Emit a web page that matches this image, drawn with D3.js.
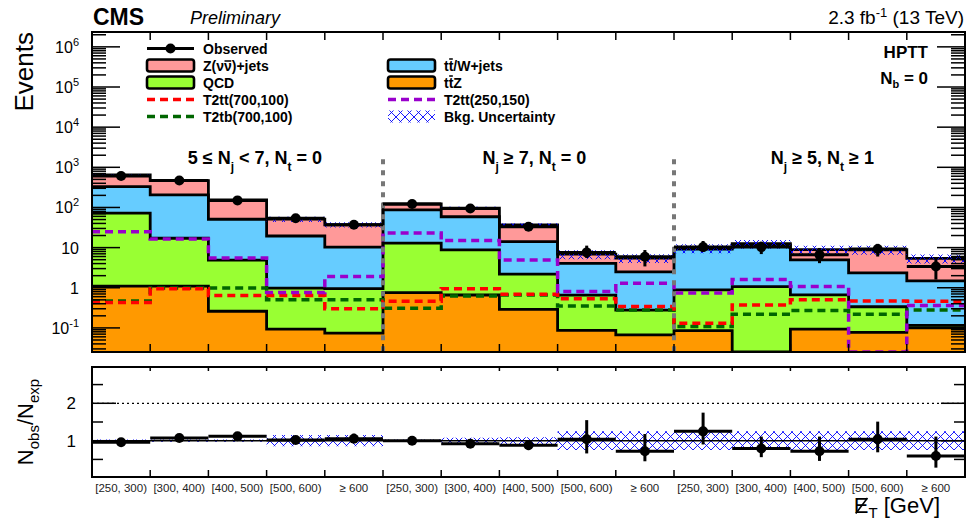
<!DOCTYPE html>
<html>
<head>
<meta charset="utf-8">
<script src="https://cdn.jsdelivr.net/npm/d3@7"></script>
<style>
body { margin: 0; background: #fff; }
svg { font-family: "Liberation Sans", Arial, Helvetica, sans-serif; }
</style>
</head>
<body>
<svg id="canvas" width="967" height="532"></svg>
<script>
// ---- data ----
let binLabels = ["[250, 300)", "[300, 400)", "[400, 500)", "[500, 600)", "\u2265 600",
                 "[250, 300)", "[300, 400)", "[400, 500)", "[500, 600)", "\u2265 600",
                 "[250, 300)", "[300, 400)", "[400, 500)", "[500, 600)", "\u2265 600"];

// stacked backgrounds, bottom to top
let ttZ = [1.1, 1.1, 0.26, 0.093, 0.074, 0.76, 0.66, 0.29, 0.087, 0.067, 0.086, 0.015, 0.093, 0.077, 0.1];
let qcd = [71, 16, 4.6, 0.89, 0.88, 12.1, 8.1, 1.9, 0.57, 0.21, 0.80, 1.05, 0.57, 0.26, 0.015];
let ttW = [258, 188, 46, 18.5, 9.3, 74, 50, 11.9, 3.4, 2.2, 8.3, 10.4, 4.3, 2.0, 1.37];
let znn = [315, 260, 103, 31.5, 26.8, 35, 37, 22.9, 2.8, 3.0, 0.5, 1.0, 3.9, 6.5, 3.9];
let bkgUnc = [0.03, 0.03, 0.03, 0.15, 0.15, 0.03, 0.08, 0.09, 0.25, 0.25, 0.25, 0.25, 0.25, 0.25, 0.25];

let obs = [605, 470, 150, 54, 37, 122, 94, 33, 7.6, 5.9, 10.3, 10.3, 6.6, 9.2, 3.4];
let obsUp = [25, 22, 12, 7.4, 6, 11, 10, 5.7, 3.6, 2.8, 4.3, 3.8, 3.2, 3.2, 2.2];
let obsDn = [25, 22, 12, 7.4, 6, 11, 10, 5.7, 2.1, 2.5, 2.4, 3.4, 2.5, 3.2, 1.8];

// signals
let t2tt700 = [0.43, 0.95, 0.64, 0.64, 0.30, 0.46, 0.95, 0.69, 0.53, 0.34, 0.13, 0.37, 0.50, 0.47, 0.46];
let t2tb700 = [0.47, 0.98, 0.98, 0.50, 0.50, 0.31, 0.62, 0.66, 0.35, 0.28, 0.108, 0.22, 0.27, 0.22, 0.28];
let t2tt250 = [25, 16.5, 5.5, 0.76, 1.9, 23, 15, 4.9, 0.81, 1.3, 0.74, 1.6, 1.07, 0.015, 0.36];

// ratio panel
let ratio = [0.96, 1.07, 1.12, 1.02, 1.05, 1.00, 0.92, 0.88, 1.04, 0.72, 1.25, 0.79, 0.72, 1.04, 0.59];
let ratioUp = [0.04, 0.05, 0.07, 0.10, 0.14, 0.07, 0.09, 0.13, 0.51, 0.46, 0.50, 0.32, 0.39, 0.47, 0.52];
let ratioDn = [0.04, 0.05, 0.07, 0.10, 0.10, 0.07, 0.09, 0.13, 0.38, 0.27, 0.35, 0.23, 0.26, 0.35, 0.31];

let yTickExp = [6, 5, 4, 3, 2, 1, 0, -1];
let ratioTicks = [1, 2];
let ratioMinor = [0.5, 1.5, 2.5];

let regionLabels = [
    { at: 2.8, parts: [["5 \u2264 N", 0], ["j", 1], [" < 7, N", 0], ["t", 1], [" = 0", 0]] },
    { at: 7.6, parts: [["N", 0], ["j", 1], [" \u2265 7, N", 0], ["t", 1], [" = 0", 0]] },
    { at: 12.55, parts: [["N", 0], ["j", 1], [" \u2265 5, N", 0], ["t", 1], [" \u2265 1", 0]] }
];
let separators = [5, 10];

// ---- layout ----
const left = 92, right = 965;
const mainTop = 32, mainBottom = 352;
const ratioTop = 367, ratioBottom = 477;
const nBins = obs.length;

const colors = { ttZ: "#ff9900", qcd: "#99ff33", ttW: "#66ccff", znn: "#ff9999" };
const red = "#ff0000", dkgreen = "#006600", purple = "#9900cc";

let svg = d3.select("#canvas");

let x = d3.scaleLinear().domain([0, nBins]).range([left, right]);
let y = d3.scaleLog().domain([Math.pow(10, -1.6), Math.pow(10, 6.37)]).range([mainBottom, mainTop]).clamp(true);
let yr = d3.scaleLinear().domain([0.03, 2.97]).range([ratioBottom, ratioTop]).clamp(true);

let defs = svg.append("defs");
let pat = defs.append("pattern").attr("id", "hatch")
    .attr("patternUnits", "userSpaceOnUse").attr("width", 9).attr("height", 9);
pat.append("path").attr("d", "M0,0L9,9M0,9L9,0")
    .attr("stroke", "#0000ff").attr("stroke-width", 0.9).attr("fill", "none");

defs.append("clipPath").attr("id", "clipMain").append("rect")
    .attr("x", left).attr("y", mainTop).attr("width", right - left).attr("height", mainBottom - mainTop);
defs.append("clipPath").attr("id", "clipRatio").append("rect")
    .attr("x", left).attr("y", ratioTop).attr("width", right - left).attr("height", ratioBottom - ratioTop);

// step helper: repeat last value at the closing edge
let steps = (arr) => arr.map((v, i) => ({ i: i, v: v })).concat([{ i: arr.length, v: arr[arr.length - 1] }]);

// ---- main panel ----
let main = svg.append("g").attr("clip-path", "url(#clipMain)");

let keys = ["ttZ", "qcd", "ttW", "znn"];
let table = ttZ.map((v, i) => ({ ttZ: v, qcd: qcd[i], ttW: ttW[i], znn: znn[i] }));
let series = d3.stack().keys(keys)(table);
let total = series[series.length - 1].map(d => d[1]);

let area = d3.area().curve(d3.curveStepAfter)
    .x(d => x(d.i)).y0(d => y(d.lo)).y1(d => y(d.hi));
let stepLine = d3.line().curve(d3.curveStepAfter).x(d => x(d.i)).y(d => y(d.v));

series.forEach(s => {
    let pts = s.map((d, i) => ({ i: i, lo: d[0], hi: d[1] }));
    pts.push({ i: nBins, lo: pts[nBins - 1].lo, hi: pts[nBins - 1].hi });
    main.append("path").attr("d", area(pts)).attr("fill", colors[s.key]);
});
series.forEach(s => {
    main.append("path").attr("d", stepLine(steps(s.map(d => d[1]))))
        .attr("fill", "none").attr("stroke", "#000").attr("stroke-width", 2.8);
});

// signals
[[t2tb700, dkgreen], [t2tt700, red], [t2tt250, purple]].forEach(([vals, col]) => {
    main.append("path").attr("d", stepLine(steps(vals)))
        .attr("fill", "none").attr("stroke", col).attr("stroke-width", 3.5)
        .attr("stroke-dasharray", "8,5");
});

// background uncertainty
let band = total.map((t, i) => ({ i: i, lo: t * (1 - bkgUnc[i]), hi: t * (1 + bkgUnc[i]) }));
band.push({ i: nBins, lo: band[nBins - 1].lo, hi: band[nBins - 1].hi });
main.append("path").attr("d", area(band)).attr("fill", "url(#hatch)");

// category separators
main.selectAll(".sep").data(separators).enter().append("line")
    .attr("x1", d => x(d)).attr("x2", d => x(d))
    .attr("y1", y(Math.pow(10, 3.2))).attr("y2", mainBottom)
    .attr("stroke", "#777").attr("stroke-width", 4).attr("stroke-dasharray", "5,6");

// observed
let obsG = main.append("g");
obs.forEach((v, i) => {
    obsG.append("line").attr("x1", x(i)).attr("x2", x(i + 1)).attr("y1", y(v)).attr("y2", y(v))
        .attr("stroke", "#000").attr("stroke-width", 3);
    obsG.append("line").attr("x1", x(i + 0.5)).attr("x2", x(i + 0.5))
        .attr("y1", y(v + obsUp[i])).attr("y2", y(v - obsDn[i]))
        .attr("stroke", "#000").attr("stroke-width", 3);
    obsG.append("circle").attr("cx", x(i + 0.5)).attr("cy", y(v)).attr("r", 5).attr("fill", "#000");
});

// frame + ticks
svg.append("rect").attr("x", left).attr("y", mainTop).attr("width", right - left).attr("height", mainBottom - mainTop)
    .attr("fill", "none").attr("stroke", "#000").attr("stroke-width", 2);

let ticks = svg.append("g").attr("stroke", "#000").attr("stroke-width", 1.5);
let minor = [];
for (let e = -2; e <= 6; e++) for (let m = 2; m <= 9; m++) {
    let v = m * Math.pow(10, e);
    if (v > y.domain()[0] && v < y.domain()[1]) minor.push(v);
}
minor.forEach(v => {
    ticks.append("line").attr("x1", left).attr("x2", left + 14).attr("y1", y(v)).attr("y2", y(v));
    ticks.append("line").attr("x1", right - 14).attr("x2", right).attr("y1", y(v)).attr("y2", y(v));
});
yTickExp.forEach(e => {
    let v = Math.pow(10, e);
    ticks.append("line").attr("x1", left).attr("x2", left + 28).attr("y1", y(v)).attr("y2", y(v));
    ticks.append("line").attr("x1", right - 28).attr("x2", right).attr("y1", y(v)).attr("y2", y(v));
});
d3.range(1, nBins).forEach(i => {
    ticks.append("line").attr("x1", x(i)).attr("x2", x(i)).attr("y1", mainTop).attr("y2", mainTop + 8);
    ticks.append("line").attr("x1", x(i)).attr("x2", x(i)).attr("y1", mainBottom).attr("y2", mainBottom - 8);
});

// y tick labels
yTickExp.forEach(e => {
    let t = svg.append("text").attr("x", 79).attr("y", y(Math.pow(10, e)) + 6)
        .attr("text-anchor", "end").attr("font-size", 16);
    if (e === 0) t.text("1");
    else if (e === 1) t.text("10");
    else {
        t.append("tspan").text("10");
        t.append("tspan").attr("dy", -7).attr("font-size", 11).text(String(e));
    }
});

// ---- ratio panel ----
let rat = svg.append("g").attr("clip-path", "url(#clipRatio)");
let rBand = bkgUnc.map((u, i) => ({ i: i, lo: 1 - u, hi: 1 + u }));
rBand.push({ i: nBins, lo: rBand[nBins - 1].lo, hi: rBand[nBins - 1].hi });
rat.append("path").attr("d", d3.area().curve(d3.curveStepAfter)
    .x(d => x(d.i)).y0(d => yr(d.lo)).y1(d => yr(d.hi))(rBand)).attr("fill", "url(#hatch)");
rat.append("line").attr("x1", left).attr("x2", right).attr("y1", yr(1)).attr("y2", yr(1))
    .attr("stroke", "#000").attr("stroke-width", 1.5);
rat.append("line").attr("x1", left).attr("x2", right).attr("y1", yr(2)).attr("y2", yr(2))
    .attr("stroke", "#000").attr("stroke-width", 1.2).attr("stroke-dasharray", "2,3");
ratio.forEach((v, i) => {
    rat.append("line").attr("x1", x(i)).attr("x2", x(i + 1)).attr("y1", yr(v)).attr("y2", yr(v))
        .attr("stroke", "#000").attr("stroke-width", 3);
    rat.append("line").attr("x1", x(i + 0.5)).attr("x2", x(i + 0.5))
        .attr("y1", yr(v + ratioUp[i])).attr("y2", yr(v - ratioDn[i]))
        .attr("stroke", "#000").attr("stroke-width", 3);
    rat.append("circle").attr("cx", x(i + 0.5)).attr("cy", yr(v)).attr("r", 5).attr("fill", "#000");
});

svg.append("rect").attr("x", left).attr("y", ratioTop).attr("width", right - left).attr("height", ratioBottom - ratioTop)
    .attr("fill", "none").attr("stroke", "#000").attr("stroke-width", 2);
ratioTicks.forEach(v => {
    ticks.append("line").attr("x1", left).attr("x2", left + 24).attr("y1", yr(v)).attr("y2", yr(v));
    ticks.append("line").attr("x1", right - 24).attr("x2", right).attr("y1", yr(v)).attr("y2", yr(v));
    svg.append("text").attr("x", 76).attr("y", yr(v) + 6).attr("text-anchor", "end")
        .attr("font-size", 17).text(v);
});
ratioMinor.forEach(v => {
    ticks.append("line").attr("x1", left).attr("x2", left + 11).attr("y1", yr(v)).attr("y2", yr(v));
    ticks.append("line").attr("x1", right - 11).attr("x2", right).attr("y1", yr(v)).attr("y2", yr(v));
});
d3.range(1, nBins).forEach(i => {
    ticks.append("line").attr("x1", x(i)).attr("x2", x(i)).attr("y1", ratioTop).attr("y2", ratioTop + 4);
    ticks.append("line").attr("x1", x(i)).attr("x2", x(i)).attr("y1", ratioBottom).attr("y2", ratioBottom - 7);
});

svg.selectAll(".binlab").data(binLabels).enter().append("text")
    .attr("x", (d, i) => x(i + 0.5)).attr("y", 492)
    .attr("text-anchor", "middle").attr("font-size", 11.5).attr("fill", "#222")
    .text(d => d);

// ---- texts ----
svg.append("text").attr("x", 93).attr("y", 25).attr("font-size", 23).attr("font-weight", "bold").text("CMS");
svg.append("text").attr("x", 190).attr("y", 24).attr("font-size", 18).attr("font-style", "italic").text("Preliminary");
let lumi = svg.append("text").attr("x", 964).attr("y", 24).attr("text-anchor", "end").attr("font-size", 19);
lumi.append("tspan").text("2.3 fb");
lumi.append("tspan").attr("dy", -7).attr("font-size", 13).text("-1");
lumi.append("tspan").attr("dy", 7).text(" (13 TeV)");

svg.append("text").attr("transform", "translate(33,32) rotate(-90)")
    .attr("text-anchor", "end").attr("font-size", 26).text("Events");

let rt = svg.append("text").attr("transform", "translate(33,422) rotate(-90)")
    .attr("text-anchor", "middle").attr("font-size", 22);
rt.append("tspan").text("N");
rt.append("tspan").attr("dy", 6).attr("font-size", 15).text("obs");
rt.append("tspan").attr("dy", -6).text("/N");
rt.append("tspan").attr("dy", 6).attr("font-size", 15).text("exp");

let xt = svg.append("text").attr("x", 940).attr("y", 513).attr("text-anchor", "end").attr("font-size", 22);
xt.append("tspan").text("E");
xt.append("tspan").attr("dy", 5).attr("font-size", 15).text("T");
xt.append("tspan").attr("dy", -5).text(" [GeV]");
let eBox = xt.node().getExtentOfChar(0);
svg.append("line")
    .attr("x1", eBox.x + 2).attr("y1", eBox.y + eBox.height * 0.82)
    .attr("x2", eBox.x + eBox.width - 1).attr("y2", eBox.y + eBox.height * 0.2)
    .attr("stroke", "#000").attr("stroke-width", 1.6);

svg.append("text").attr("x", 928).attr("y", 58).attr("text-anchor", "end")
    .attr("font-size", 17).attr("font-weight", "bold").text("HPTT");
let nb = svg.append("text").attr("x", 928).attr("y", 84).attr("text-anchor", "end")
    .attr("font-size", 17).attr("font-weight", "bold");
nb.append("tspan").text("N");
nb.append("tspan").attr("dy", 4).attr("font-size", 11).text("b");
nb.append("tspan").attr("dy", -4).text(" = 0");

regionLabels.forEach(r => {
    let t = svg.append("text").attr("x", x(r.at)).attr("y", 164).attr("text-anchor", "middle")
        .attr("font-size", 18).attr("font-weight", "bold");
    r.parts.forEach(([s, sub], k) => {
        let prevSub = k > 0 && r.parts[k - 1][1];
        let ts = t.append("tspan").text(s);
        if (sub) ts.attr("dy", 7).attr("font-size", 12);
        else if (prevSub) ts.attr("dy", -7);
    });
});

// ---- legend ----
// bar: index of the character that carries an anti-particle bar
let legendItems = [
    { col: 0, row: 0, label: "Observed", kind: "obs" },
    { col: 0, row: 1, label: "Z(\u03bd\u03bd)+jets", bar: 3, kind: "box", color: colors.znn },
    { col: 0, row: 2, label: "QCD", kind: "box", color: colors.qcd },
    { col: 0, row: 3, label: "T2tt(700,100)", kind: "dash", color: red },
    { col: 0, row: 4, label: "T2tb(700,100)", kind: "dash", color: dkgreen },
    { col: 1, row: 1, label: "tt/W+jets", bar: 1, kind: "box", color: colors.ttW },
    { col: 1, row: 2, label: "ttZ", bar: 1, kind: "box", color: colors.ttZ },
    { col: 1, row: 3, label: "T2tt(250,150)", kind: "dash", color: purple },
    { col: 1, row: 4, label: "Bkg. Uncertainty", kind: "hatch" }
];
let legX = [147, 388], legW = 47;
let leg = svg.append("g");
legendItems.forEach(d => {
    let x0 = legX[d.col], yc = 48.5 + d.row * 17;
    if (d.kind === "obs") {
        leg.append("line").attr("x1", x0).attr("x2", x0 + legW).attr("y1", yc).attr("y2", yc)
            .attr("stroke", "#000").attr("stroke-width", 3);
        leg.append("circle").attr("cx", x0 + legW / 2).attr("cy", yc).attr("r", 5).attr("fill", "#000");
    } else if (d.kind === "box") {
        leg.append("rect").attr("x", x0).attr("y", yc - 6).attr("width", legW).attr("height", 12)
            .attr("rx", 2.5).attr("fill", d.color).attr("stroke", "#000").attr("stroke-width", 2.6);
    } else if (d.kind === "dash") {
        leg.append("line").attr("x1", x0).attr("x2", x0 + legW).attr("y1", yc).attr("y2", yc)
            .attr("stroke", d.color).attr("stroke-width", 3.5).attr("stroke-dasharray", "8,5");
    } else {
        leg.append("rect").attr("x", x0).attr("y", yc - 6).attr("width", legW).attr("height", 12)
            .attr("fill", "url(#hatch)");
    }
    let t = leg.append("text").attr("x", x0 + 56).attr("y", yc + 5).attr("font-size", 14)
        .attr("font-weight", "bold").text(d.label);
    if (d.bar !== undefined) {
        let b = t.node().getExtentOfChar(d.bar);
        let top = d.label[d.bar] === "t" ? b.y + 1.5 : b.y + 3.5;
        leg.append("line").attr("x1", b.x + 0.5).attr("x2", b.x + b.width - 0.5)
            .attr("y1", top).attr("y2", top).attr("stroke", "#000").attr("stroke-width", 1.5);
    }
});
</script>
</body>
</html>
